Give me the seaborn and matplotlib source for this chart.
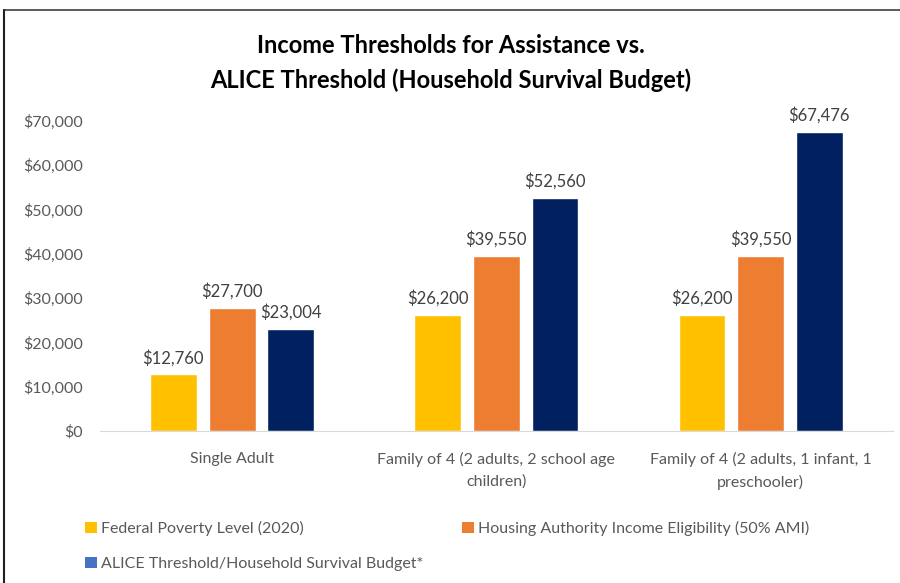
import pandas as pd
import matplotlib.pyplot as plt
import seaborn as sns
from matplotlib.patches import Patch
from matplotlib.lines import Line2D

# Chart data
categories = [
    "Single Adult",
    "Family of 4 (2 adults, 2 school age\nchildren)",
    "Family of 4 (2 adults, 1 infant, 1\npreschooler)",
]
series_names = [
    "Federal Poverty Level (2020)",
    "Housing Authority Income Eligibility (50% AMI)",
    "ALICE Threshold/Household Survival Budget*",
]
poverty_level = [12760, 26200, 26200]
housing_eligibility = [27700, 39550, 39550]
alice_threshold = [23004, 52560, 67476]
y_ticks = [0, 10000, 20000, 30000, 40000, 50000, 60000, 70000]

bar_colors = ["#FFC000", "#ED7D31", "#002060"]
legend_colors = ["#FFC000", "#ED7D31", "#4472C4"]

rows = []
for name, values in zip(series_names, [poverty_level, housing_eligibility, alice_threshold]):
    for cat, v in zip(categories, values):
        rows.append({"category": cat, "series": name, "value": v})
df = pd.DataFrame(rows)

sns.set_style("white")
plt.rcParams["font.family"] = ["Lato", "DejaVu Sans"]

fig = plt.figure(figsize=(9, 5.83), dpi=100)
ax = fig.add_axes([0.111, 0.2607, 0.881, 0.532])

sns.barplot(data=df, x="category", y="value", hue="series", order=categories,
            hue_order=series_names, palette=bar_colors, width=0.666, gap=0.2,
            saturation=1, legend=False, ax=ax)

for container in ax.containers:
    ax.bar_label(container, labels=[f"${v:,.0f}" for v in container.datavalues],
                 padding=6, fontsize=12, color="#404040")

ax.set_ylim(0, 70000)
ax.set_xlim(-0.5, 2.5)
ax.set_yticks(y_ticks)
ax.set_yticklabels([f"${t:,}" for t in y_ticks])
ax.tick_params(axis="y", labelsize=11.5, colors="#595959", length=0, pad=12)
ax.tick_params(axis="x", labelsize=11.5, colors="#595959", length=0, pad=15)
for lbl in ax.get_xticklabels():
    lbl.set_linespacing(1.7)
ax.set_xlabel("")
ax.set_ylabel("")
for side in ["top", "right", "left"]:
    ax.spines[side].set_visible(False)
ax.spines["bottom"].set_color("#D9D9D9")

fig.text(0.501, 0.922, "Income Thresholds for Assistance vs.", ha="center", va="center",
         fontsize=17, fontweight="bold", color="#000000")
fig.text(0.501, 0.862, "ALICE Threshold (Household Survival Budget)", ha="center", va="center",
         fontsize=17, fontweight="bold", color="#000000")

# legend: yellow and ALICE in the left column, orange on its own to the right
handles = [Patch(facecolor=c, edgecolor="none") for c in legend_colors]
leg_kw = dict(frameon=False, fontsize=11.5, labelcolor="#595959", handlelength=0.7,
              handleheight=0.7, handletextpad=0.3, labelspacing=1.3, borderpad=0)
fig.legend([handles[0], handles[2]], [series_names[0], series_names[2]],
           loc="upper left", bbox_to_anchor=(0.086, 0.12), **leg_kw)
fig.legend([handles[1]], [series_names[1]], loc="upper left",
           bbox_to_anchor=(0.505, 0.12), **leg_kw)

# outer frame lines
fig.add_artist(Line2D([4 / 900, 1], [1 - 10 / 583, 1 - 10 / 583], color="#404040", lw=1.2))
fig.add_artist(Line2D([4 / 900, 4 / 900], [0, 1 - 10 / 583], color="#202020", lw=1.5))

fig.savefig("out.png", dpi=100, facecolor="white")
